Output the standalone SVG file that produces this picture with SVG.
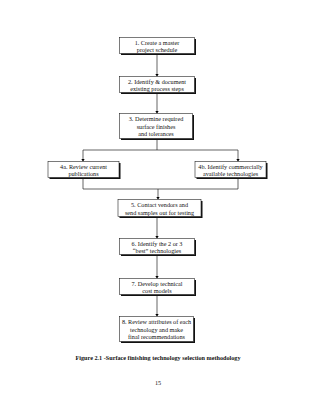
<svg xmlns="http://www.w3.org/2000/svg" width="320" height="405" viewBox="0 0 320 405">
<defs>
<marker id="ah" viewBox="0 0 6 8" refX="6" refY="4" markerWidth="3" markerHeight="4" orient="auto" markerUnits="userSpaceOnUse"><path d="M0,0 L6,4 L0,8 Z" fill="#000"/></marker>
</defs>
<style>
.sh{fill:#111}
.bx{fill:#fff;stroke:#222;stroke-width:0.6}
.t{font-family:"Liberation Serif","Times New Roman",serif;font-size:6.2px;fill:#111;text-anchor:middle}
.c{stroke:#222;stroke-width:0.7;fill:none}
.cap{font-family:"Liberation Serif","Times New Roman",serif;font-size:6.2px;font-weight:bold;fill:#111;text-anchor:middle}
</style>
<rect width="320" height="405" fill="#fff"/>
<g id="connectors">
<path class="c" d="M157,53.5 V76.5" marker-end="url(#ah)"/>
<path class="c" d="M157,92.5 V113.5" marker-end="url(#ah)"/>
<path class="c" d="M157,139.5 V150 M83,150 H238"/>
<path class="c" d="M83,150 V161.5" marker-end="url(#ah)"/>
<path class="c" d="M238,150 V161.5" marker-end="url(#ah)"/>
<path class="c" d="M83,178.5 V189 H238 V178.5"/>
<path class="c" d="M158,189 V199.5" marker-end="url(#ah)"/>
<path class="c" d="M157,217.5 V238.5" marker-end="url(#ah)"/>
<path class="c" d="M157,255.5 V278.5" marker-end="url(#ah)"/>
<path class="c" d="M157,295.5 V316.5" marker-end="url(#ah)"/>
</g>
<g id="n1">
<rect class="sh" x="121" y="39" width="75" height="16"/>
<rect class="bx" x="119.5" y="37.5" width="75" height="16"/>
<text class="t" x="157" y="44.5">1. Create a master</text>
<text class="t" x="157" y="51.5">project schedule</text>
</g>
<g id="n2">
<rect class="sh" x="121" y="78" width="75" height="16"/>
<rect class="bx" x="119.5" y="76.5" width="75" height="16"/>
<text class="t" x="157" y="83.5">2. Identify &amp; document</text>
<text class="t" x="157" y="90.5">existing process steps</text>
</g>
<g id="n3">
<rect class="sh" x="121" y="115" width="73" height="25"/>
<rect class="bx" x="119.5" y="113.5" width="73" height="25"/>
<text class="t" x="156" y="121">3. Determine required</text>
<text class="t" x="156" y="128.5">surface finishes</text>
<text class="t" x="156" y="136">and tolerances</text>
</g>
<g id="n4a">
<rect class="sh" x="49.5" y="163" width="71" height="16"/>
<rect class="bx" x="48" y="161.5" width="71" height="16"/>
<text class="t" x="83.5" y="168.5">4a. Review current</text>
<text class="t" x="83.5" y="175.5">publications</text>
</g>
<g id="n4b">
<rect class="sh" x="196.5" y="163" width="71" height="16"/>
<rect class="bx" x="195" y="161.5" width="71" height="16"/>
<text class="t" x="230.5" y="168.5">4b. Identify commercially</text>
<text class="t" x="230.5" y="175.5">available technologies</text>
</g>
<g id="n5">
<rect class="sh" x="119.5" y="201" width="83" height="17"/>
<rect class="bx" x="118" y="199.5" width="83" height="17"/>
<text class="t" x="159.5" y="207">5. Contact vendors and</text>
<text class="t" x="159.5" y="214.5">send samples out for testing</text>
</g>
<g id="n6">
<rect class="sh" x="121" y="240" width="75" height="16"/>
<rect class="bx" x="119.5" y="238.5" width="75" height="16"/>
<text class="t" x="157" y="245.5">6. Identify the 2 or 3</text>
<text class="t" x="157" y="252.5">“best” technologies</text>
</g>
<g id="n7">
<rect class="sh" x="121" y="280" width="75" height="16"/>
<rect class="bx" x="119.5" y="278.5" width="75" height="16"/>
<text class="t" x="157" y="285.5">7. Develop technical</text>
<text class="t" x="157" y="292.5">cost models</text>
</g>
<g id="n8">
<rect class="sh" x="121" y="318" width="74" height="25"/>
<rect class="bx" x="119.5" y="316.5" width="74" height="25"/>
<text class="t" x="156.5" y="324">8. Review attributes of each</text>
<text class="t" x="156.5" y="331.5">technology and make</text>
<text class="t" x="156.5" y="339">final recommendations</text>
</g>
<text class="cap" x="158" y="360">Figure 2.1 -Surface finishing technology selection methodology</text>
<text class="t" x="158" y="385">15</text>
</svg>
